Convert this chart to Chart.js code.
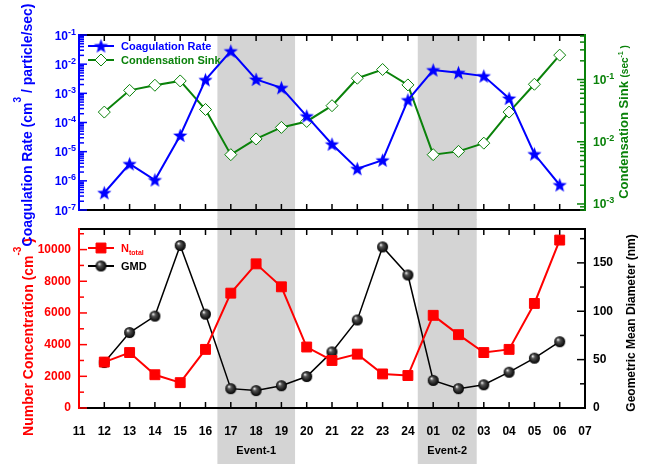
<!DOCTYPE html>
<html>
<head>
<meta charset="utf-8">
<script src="https://cdn.jsdelivr.net/npm/chart.js@4.4.0/dist/chart.umd.min.js"></script>
<style>
  html, body { margin: 0; padding: 0; background: #fff; }
  #wrap { position: relative; width: 646px; height: 464px; }
  #wrap canvas { position: absolute; left: 0; top: 0; }
</style>
</head>
<body>
<div id="wrap">
  <canvas id="bottomChart" width="646" height="464"></canvas>
  <canvas id="topChart" width="646" height="464"></canvas>
</div>
<script>
const hourLabels = ['11', '12', '13', '14', '15', '16', '17', '18', '19', '20', '21', '22', '23', '24',
    '01', '02', '03', '04', '05', '06', '07'];

// values for the hours 12 ... 06 (11 and 07 have no data)
const coagRate = [3.9e-7, 3.8e-6, 1.07e-6, 3.6e-5, 2.9e-3, 2.8e-2, 3.0e-3, 1.55e-3, 1.66e-4, 1.8e-5,
    2.6e-6, 5.1e-6, 5.9e-4, 6.3e-3, 5.1e-3, 3.9e-3, 6.7e-4, 8.3e-6, 7.2e-7];
const condSink = [0.030, 0.067, 0.081, 0.095, 0.033, 0.0062, 0.0111, 0.017, 0.0212, 0.038,
    0.105, 0.145, 0.082, 0.0062, 0.0070, 0.0095, 0.030, 0.084, 0.247];
const nTotal = [2900, 3500, 2100, 1600, 3700, 7250, 9100, 7650, 3850, 3000,
    3400, 2150, 2050, 5850, 4630, 3500, 3700, 6600, 10600];
const gmd = [47, 78, 95, 168, 97, 20, 18, 23, 32.5, 58,
    91, 166.5, 137.5, 28.5, 20, 24, 37, 51.5, 68.5];

// shaded events, in x index units (0 = "11")
const eventNames = ['Event-1', 'Event-2'];
const eventStart = [5.47, 13.39];
const eventEnd = [8.54, 15.72];

// axis labels
const coagExponents = [-7, -6, -5, -4, -3, -2, -1];
const sinkExponents = [-3, -2, -1];
const nTicks = [0, 2000, 4000, 6000, 8000, 10000];
const gmdTicks = [0, 50, 100, 150];

const BLUE = '#0000ff';
const GREEN = '#0a820a';
const RED = '#ff0000';
const BLACK = '#000000';
const FONT = '"Liberation Sans", Arial, sans-serif';

Chart.defaults.font.family = FONT;

const pad = arr => [null, ...arr, null];
const fontOf = (size, weight) => (weight || 'bold') + ' ' + size + 'px ' + FONT;

function makeStar(color, r) {
    const c = document.createElement('canvas');
    const s = Math.ceil(r * 2) + 2;
    c.width = s; c.height = s;
    const g = c.getContext('2d');
    g.fillStyle = color;
    g.beginPath();
    for (let i = 0; i < 10; i++) {
        const rad = i % 2 ? r * 0.42 : r;
        const a = -Math.PI / 2 + i * Math.PI / 5;
        g.lineTo(s / 2 + rad * Math.cos(a), s / 2 + 0.6 + rad * Math.sin(a));
    }
    g.closePath();
    g.fill();
    return c;
}

function makeBall(r) {
    const c = document.createElement('canvas');
    const s = Math.ceil(r * 2) + 2;
    c.width = s; c.height = s;
    const g = c.getContext('2d');
    const grad = g.createRadialGradient(s / 2 - r * 0.35, s / 2 - r * 0.4, 0.3, s / 2, s / 2, r);
    grad.addColorStop(0, '#f4f4f4');
    grad.addColorStop(0.3, '#555');
    grad.addColorStop(1, '#000');
    g.fillStyle = grad;
    g.beginPath();
    g.arc(s / 2, s / 2, r, 0, Math.PI * 2);
    g.fill();
    return c;
}

const starImg = makeStar(BLUE, 7.5);
const ballImg = makeBall(5.5);

function line(ctx, x1, y1, x2, y2) {
    ctx.beginPath();
    ctx.moveTo(x1, y1);
    ctx.lineTo(x2, y2);
    ctx.stroke();
}

function drawRich(ctx, parts, x, y, align) {
    let total = 0;
    parts.forEach(p => {
        ctx.font = fontOf(p.size, p.weight);
        p.w = ctx.measureText(p.text).width;
        total += p.w;
    });
    let cx = align === 'center' ? x - total / 2 : align === 'right' ? x - total : x;
    ctx.textAlign = 'left';
    ctx.textBaseline = 'alphabetic';
    parts.forEach(p => {
        ctx.font = fontOf(p.size, p.weight);
        ctx.fillText(p.text, cx, y - (p.rise || 0));
        cx += p.w;
    });
}

function drawVerticalTitle(ctx, parts, baseX, centerY, color) {
    ctx.save();
    ctx.translate(baseX, centerY);
    ctx.rotate(-Math.PI / 2);
    ctx.fillStyle = color;
    drawRich(ctx, parts, 0, 0, 'center');
    ctx.restore();
}

function drawBands(chart, yTop, yBottom) {
    const x = chart.scales.x;
    const ctx = chart.ctx;
    ctx.save();
    ctx.fillStyle = '#d4d4d4';
    for (let i = 0; i < eventStart.length; i++) {
        const x1 = x.getPixelForValue(eventStart[i]);
        const x2 = x.getPixelForValue(eventEnd[i]);
        ctx.fillRect(x1, yTop, x2 - x1, yBottom - yTop);
    }
    ctx.restore();
}

function drawFrame(chart, leftColor, rightColor) {
    const ctx = chart.ctx;
    const a = chart.chartArea;
    ctx.save();
    ctx.lineWidth = 2;
    ctx.strokeStyle = BLACK;
    line(ctx, a.left, a.top, a.right, a.top);
    line(ctx, a.left, a.bottom, a.right, a.bottom);
    // x ticks, inward on both borders
    ctx.lineWidth = 1.5;
    const x = chart.scales.x;
    for (let i = 0; i < hourLabels.length; i++) {
        const px = x.getPixelForValue(i);
        line(ctx, px, a.top, px, a.top + 6);
        line(ctx, px, a.bottom, px, a.bottom - 6);
    }
    ctx.lineWidth = 2;
    ctx.strokeStyle = leftColor;
    line(ctx, a.left, a.top - 1, a.left, a.bottom + 1);
    ctx.strokeStyle = rightColor;
    line(ctx, a.right, a.top - 1, a.right, a.bottom + 1);
    ctx.restore();
}

function logTickValues(scale) {
    const out = [];
    for (let e = Math.floor(Math.log10(scale.min)); e <= Math.ceil(Math.log10(scale.max)); e++) {
        for (let m = 1; m <= 9; m++) {
            const v = m * Math.pow(10, e);
            if (v >= scale.min * 0.999 && v <= scale.max * 1.001) out.push({ v, major: m === 1 });
        }
    }
    return out;
}

function linearTickValues(scale, minorStep, majorStep) {
    const out = [];
    for (let v = 0; v <= scale.max; v += minorStep) out.push({ v, major: v % majorStep === 0 });
    return out;
}

function drawYTicks(chart, scale, ticks, color, side) {
    const ctx = chart.ctx;
    const a = chart.chartArea;
    ctx.save();
    ctx.strokeStyle = color;
    ctx.lineWidth = 1.5;
    ticks.forEach(t => {
        const py = scale.getPixelForValue(t.v);
        const len = t.major ? 8 : 5;
        if (side === 'left') line(ctx, a.left, py, a.left + len, py);
        else line(ctx, a.right, py, a.right - len, py);
    });
    ctx.restore();
}

function drawPowerLabels(chart, scale, exps, color, side) {
    const ctx = chart.ctx;
    const a = chart.chartArea;
    ctx.save();
    ctx.fillStyle = color;
    exps.forEach(e => {
        const py = scale.getPixelForValue(Math.pow(10, e));
        const parts = [{ text: '10', size: 12 }, { text: String(e), size: 9, rise: 5 }];
        if (side === 'left') drawRich(ctx, parts, a.left - 3, py + 4.5, 'right');
        else drawRich(ctx, parts, a.right + 8, py + 4.5, 'left');
    });
    ctx.restore();
}

function drawLegendItem(ctx, dataset, y, labelParts, color) {
    ctx.save();
    ctx.strokeStyle = dataset.borderColor;
    ctx.lineWidth = 2;
    line(ctx, 88, y, 114, y);
    ctx.fillStyle = dataset.pointBackgroundColor;
    ctx.strokeStyle = dataset.pointBorderColor;
    ctx.lineWidth = dataset.pointBorderWidth;
    Chart.helpers.drawPoint(ctx, {
        pointStyle: dataset.pointStyle,
        radius: dataset.pointRadius,
        borderWidth: dataset.pointBorderWidth,
        rotation: 0
    }, 101, y);
    ctx.fillStyle = color;
    drawRich(ctx, labelParts, 121, y + 4, 'left');
    ctx.restore();
}

const topPanel = {
    id: 'topPanel',
    beforeDraw(chart) {
        drawBands(chart, chart.chartArea.top, chart.chartArea.bottom + 10);
    },
    beforeDatasetsDraw(chart) {
        drawFrame(chart, BLUE, GREEN);
        drawYTicks(chart, chart.scales.yCoag, logTickValues(chart.scales.yCoag), BLUE, 'left');
        drawYTicks(chart, chart.scales.ySink, logTickValues(chart.scales.ySink), GREEN, 'right');
        drawPowerLabels(chart, chart.scales.yCoag, coagExponents, BLUE, 'left');
        drawPowerLabels(chart, chart.scales.ySink, sinkExponents, GREEN, 'right');
    },
    afterDraw(chart) {
        const ctx = chart.ctx;
        const ds = chart.data.datasets;
        drawLegendItem(ctx, ds[0], 46, [{ text: 'Coagulation Rate', size: 11 }], BLUE);
        drawLegendItem(ctx, ds[1], 60, [{ text: 'Condensation Sink', size: 11 }], GREEN);
        drawVerticalTitle(ctx, [
            { text: 'Coagulation Rate (cm', size: 14 },
            { text: '3', size: 10, rise: 11 },
            { text: ' / particle/sec)', size: 14 }
        ], 32, 125, BLUE);
        drawVerticalTitle(ctx, [
            { text: 'Condensation Sink ', size: 13 },
            { text: '(sec', size: 10 },
            { text: '-1', size: 7, rise: 5 },
            { text: ' )', size: 10 }
        ], 628, 122, GREEN);
    }
};

const bottomPanel = {
    id: 'bottomPanel',
    beforeDraw(chart) {
        drawBands(chart, chart.chartArea.top - 10, chart.height);
    },
    beforeDatasetsDraw(chart) {
        drawFrame(chart, RED, BLACK);
        drawYTicks(chart, chart.scales.yN, linearTickValues(chart.scales.yN, 1000, 2000), RED, 'left');
        drawYTicks(chart, chart.scales.yGMD, linearTickValues(chart.scales.yGMD, 25, 50), BLACK, 'right');
    },
    afterDraw(chart) {
        const ctx = chart.ctx;
        const ds = chart.data.datasets;
        const x = chart.scales.x;
        ctx.save();
        ctx.fillStyle = BLACK;
        ctx.font = fontOf(11);
        ctx.textAlign = 'center';
        ctx.textBaseline = 'middle';
        for (let i = 0; i < eventNames.length; i++) {
            ctx.fillText(eventNames[i], x.getPixelForValue((eventStart[i] + eventEnd[i]) / 2), 451);
        }
        ctx.restore();
        drawLegendItem(ctx, ds[0], 248, [{ text: 'N', size: 11 }, { text: 'total', size: 7, rise: -3 }], RED);
        drawLegendItem(ctx, ds[1], 266, [{ text: 'GMD', size: 11 }], BLACK);
        drawVerticalTitle(ctx, [
            { text: 'Number Concentration (cm', size: 14 },
            { text: '-3', size: 10, rise: 12 },
            { text: ' )', size: 14 }
        ], 33, 337, RED);
        drawVerticalTitle(ctx, [
            { text: 'Geometric Mean Diameter (nm)', size: 12 }
        ], 635, 323, BLACK);
    }
};

new Chart(document.getElementById('topChart'), {
    type: 'line',
    data: {
        labels: hourLabels,
        datasets: [{
            label: 'Coagulation Rate',
            data: pad(coagRate),
            yAxisID: 'yCoag',
            borderColor: BLUE,
            borderWidth: 2,
            pointStyle: starImg,
            pointRadius: 7,
            pointBackgroundColor: BLUE,
            pointBorderColor: BLUE,
            pointBorderWidth: 1
        }, {
            label: 'Condensation Sink',
            data: pad(condSink),
            yAxisID: 'ySink',
            borderColor: GREEN,
            borderWidth: 2,
            pointStyle: 'rectRot',
            pointRadius: 6,
            pointBackgroundColor: '#ffffff',
            pointBorderColor: GREEN,
            pointBorderWidth: 1
        }]
    },
    options: {
        responsive: false,
        animation: false,
        layout: { padding: { left: 0, right: 0, top: 35, bottom: 254 } },
        scales: {
            x: {
                type: 'category',
                grid: { display: false, drawTicks: false },
                border: { display: false },
                ticks: { display: false },
                afterFit: s => { s.height = 0; }
            },
            yCoag: {
                type: 'logarithmic',
                position: 'left',
                min: 1e-7,
                max: 1e-1,
                grid: { display: false, drawTicks: false },
                border: { display: false },
                ticks: { display: false },
                afterFit: s => { s.width = 79; }
            },
            ySink: {
                type: 'logarithmic',
                position: 'right',
                min: 8e-4,
                max: 0.52,
                grid: { display: false, drawTicks: false },
                border: { display: false },
                ticks: { display: false },
                afterFit: s => { s.width = 61; }
            }
        },
        plugins: {
            legend: { display: false },
            tooltip: { enabled: false }
        }
    },
    plugins: [topPanel]
});

new Chart(document.getElementById('bottomChart'), {
    type: 'line',
    data: {
        labels: hourLabels,
        datasets: [{
            label: 'N total',
            data: pad(nTotal),
            yAxisID: 'yN',
            borderColor: RED,
            borderWidth: 2,
            pointStyle: 'rect',
            pointRadius: 7,
            pointBackgroundColor: RED,
            pointBorderColor: RED,
            pointBorderWidth: 1
        }, {
            label: 'GMD',
            data: pad(gmd),
            yAxisID: 'yGMD',
            borderColor: BLACK,
            borderWidth: 1.5,
            pointStyle: ballImg,
            pointRadius: 6,
            pointBackgroundColor: BLACK,
            pointBorderColor: BLACK,
            pointBorderWidth: 1
        }]
    },
    options: {
        responsive: false,
        animation: false,
        layout: { padding: { left: 0, right: 0, top: 229, bottom: 0 } },
        scales: {
            x: {
                type: 'category',
                grid: { display: false, drawTicks: false },
                border: { display: false },
                ticks: {
                    color: BLACK,
                    font: { size: 12, weight: 'bold' },
                    padding: 16,
                    autoSkip: false,
                    maxRotation: 0,
                    minRotation: 0
                },
                afterFit: s => { s.height = 56; }
            },
            yN: {
                type: 'linear',
                position: 'left',
                min: 0,
                max: 11300,
                grid: { display: false, drawTicks: false },
                border: { display: false },
                ticks: {
                    color: RED,
                    font: { size: 12, weight: 'bold' },
                    padding: 8,
                    callback: value => String(value)
                },
                afterBuildTicks: s => { s.ticks = nTicks.map(v => ({ value: v })); },
                afterFit: s => { s.width = 79; }
            },
            yGMD: {
                type: 'linear',
                position: 'right',
                min: 0,
                max: 185,
                grid: { display: false, drawTicks: false },
                border: { display: false },
                ticks: {
                    color: BLACK,
                    font: { size: 12, weight: 'bold' },
                    padding: 8,
                    callback: value => String(value)
                },
                afterBuildTicks: s => { s.ticks = gmdTicks.map(v => ({ value: v })); },
                afterFit: s => { s.width = 61; }
            }
        },
        plugins: {
            legend: { display: false },
            tooltip: { enabled: false }
        }
    },
    plugins: [bottomPanel]
});
</script>
</body>
</html>
